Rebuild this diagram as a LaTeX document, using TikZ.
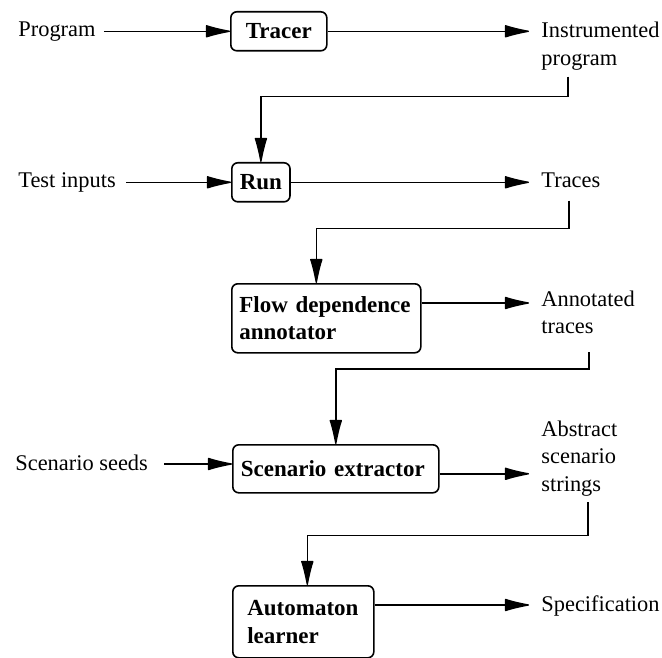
\documentclass[tikz,border=0pt]{standalone}
\usepackage{fontspec}
\setmainfont{Liberation Serif}
\usepackage{tikz}
\usetikzlibrary{arrows.meta,positioning}
\tikzstyle{stage}=[draw,rounded corners=3pt,line width=0.8pt,font=\fontsize{11.5pt}{13.75pt}\selectfont\bfseries,align=left,anchor=north west,inner xsep=4pt,inner ysep=0pt]
\tikzstyle{datum}=[align=left,inner sep=0pt,anchor=base west]
\tikzstyle{flow}=[line width=0.7pt,-{Latex[length=14pt,width=6.5pt,round]}]

\begin{document}
\begin{tikzpicture}[x=0.5pt,y=-0.5pt,font=\fontsize{11.2pt}{13.75pt}\selectfont]
\clip (0,0) rectangle (662,657);
% stages
\node [stage, minimum width=48pt, minimum height=19.5pt] (tracer) at (230,11) {Tracer};
\node [stage, minimum width=28.5pt, minimum height=19.5pt] (run) at (231,162) {Run};
\node [stage, text width=87pt, inner xsep=3.75pt, minimum height=34.5pt] (annotator) at (231,283) {Flow dependence\\annotator};
\node [stage, text width=95pt, minimum height=24pt] (extractor) at (232,444) {Scenario extractor};
\node [stage, text width=56pt, inner xsep=7.25pt, minimum height=36pt] (learner) at (232,585) {Automaton\\learner};
% inputs
\node [datum] (program) at (18,37) {Program};
\node [datum] (inputs) at (18,188) {Test inputs};
\node [datum] (seeds) at (15,470) {Scenario seeds};
% outputs (base = last line)
\node [datum] (instrumented) at (541,65.5) {Instrumented\\program};
\node [datum] (traces) at (541,188) {Traces};
\node [datum] (annotated) at (541,333.5) {Annotated\\traces};
\node [datum] (abstract) at (541,491) {Abstract\\scenario\\strings};
\node [datum] (spec) at (541,611) {Specification};

\draw [flow, shorten <=4pt] (program.east |- tracer.west) -- (tracer.west);
\draw [flow, shorten <=5pt] (inputs.east |- run.west) -- (run.west);
\draw [flow, shorten <=8pt] (seeds.east |- 0,464) -- (extractor.west |- 0,464);

\draw [flow, shorten >=6pt] (tracer.east) -- (tracer.east -| instrumented.west);
\draw [flow, shorten >=6pt] (run.east) -- (run.east -| traces.west);
\draw [flow, shorten >=6pt] ([yshift=-10pt]annotator.north east) -- ([yshift=-10pt]annotator.north east -| annotated.west);
\draw [flow, shorten >=6pt] ([yshift=-2.5pt]extractor.east) -- ([yshift=-2.5pt]extractor.east -| abstract.west);
\draw [flow, shorten >=6pt] ([yshift=-10pt]learner.north east) -- ([yshift=-10pt]learner.north east -| spec.west);

\draw [flow] ([xshift=13.5pt,yshift=-3pt]instrumented.south west) -- ++(0,20) -| (run.north);
\draw [flow] ([xshift=14pt,yshift=-6pt]traces.south west) -- ++(0,28) -| ([xshift=-5pt]annotator.north);
\draw [flow] ([xshift=24pt,yshift=-9pt]annotated.south west) -- ++(0,17) -| (extractor.north);
\draw [flow] ([xshift=23.5pt,yshift=-3pt]abstract.south west) -- ++(0,33) -| ([xshift=2pt]learner.north);
\end{tikzpicture}
\end{document}
